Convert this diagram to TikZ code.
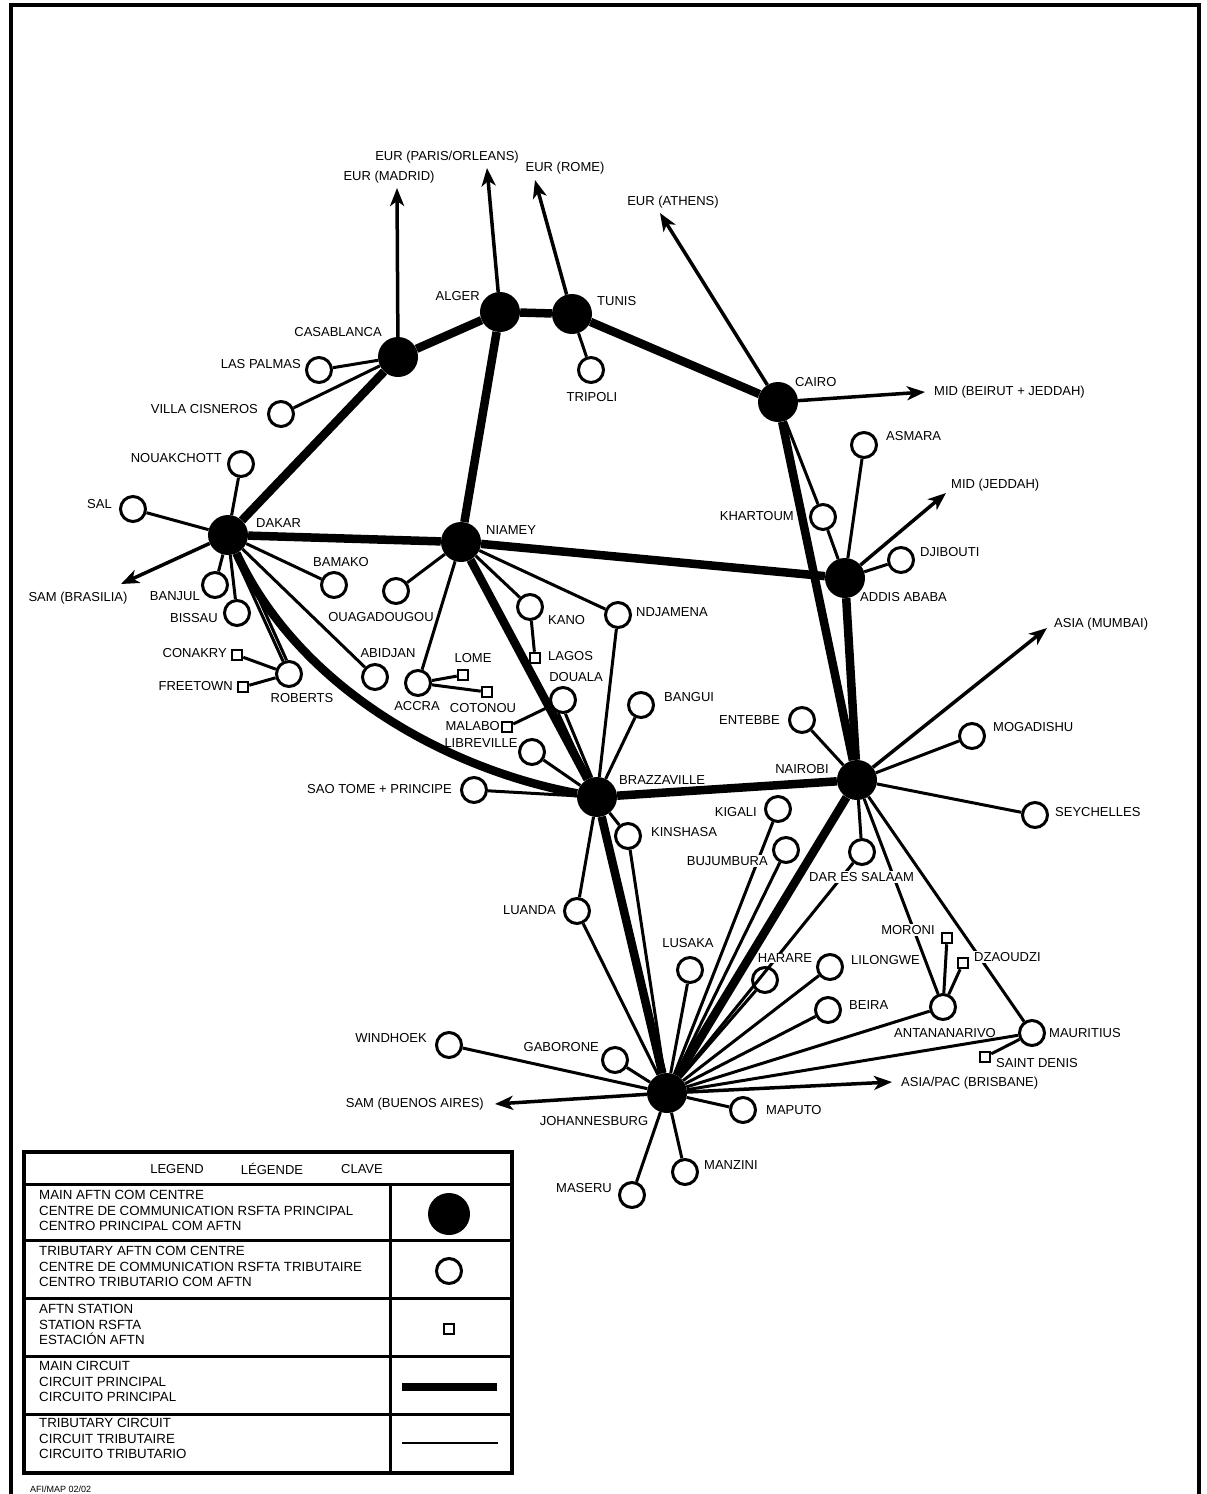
\documentclass[tikz,border=0pt]{standalone}
\usepackage{fontspec}
\setmainfont{Liberation Sans}
\usetikzlibrary{arrows.meta}
\tikzset{
  hub/.style={circle, fill=black, minimum size=40pt, inner sep=0pt},
  trib/.style={circle, draw, line width=3pt, fill=white, minimum size=25pt, inner sep=0pt},
  stn/.style={rectangle, draw, line width=2.5pt, fill=white, minimum size=10pt, inner sep=0pt},
  lbl/.style={font=\fontsize{13}{15.5}\selectfont, inner sep=1pt},
  cut/.style={lbl, fill=white},
  legtext/.style={font=\fontsize{13.3}{15.6}\selectfont, align=left, anchor=north west, inner sep=0pt},
  maincirc/.style={line width=8.5pt},
  tribcirc/.style={line width=3pt},
  extcirc/.style={line width=3.5pt, -{Stealth[length=18pt,width=14pt,inset=5pt]}},
}
\begin{document}
\begin{tikzpicture}[x=1pt,y=-1pt]
  \useasboundingbox (0,0) rectangle (1207,1494);
  \draw[line width=4pt] (11,1500) -- (11,5) -- (1199,5) -- (1199,1500);

  % main centres
  \node[hub] (casablanca) at (398,357) {};
  \node[hub] (alger) at (500,312) {};
  \node[hub] (tunis) at (572,314) {};
  \node[hub] (cairo) at (778,402) {};
  \node[hub] (dakar) at (228,535) {};
  \node[hub] (niamey) at (461,542) {};
  \node[hub] (addis) at (845,578) {};
  \node[hub] (brazzaville) at (597,797) {};
  \node[hub] (nairobi) at (857,780) {};
  \node[hub] (johannesburg) at (667,1093) {};

  % tributary centres
  \node[trib] (laspalmas) at (319,370) {};
  \node[trib] (villacisneros) at (281,414) {};
  \node[trib] (nouakchott) at (241,464) {};
  \node[trib] (sal) at (133,509) {};
  \node[trib] (banjul) at (215,585) {};
  \node[trib] (bissau) at (237,613) {};
  \node[trib] (roberts) at (289,674) {};
  \node[trib] (bamako) at (334,585) {};
  \node[trib] (ouagadougou) at (396,591) {};
  \node[trib] (abidjan) at (375,677) {};
  \node[trib] (accra) at (418,683) {};
  \node[trib] (kano) at (530,607) {};
  \node[trib] (ndjamena) at (618,615) {};
  \node[trib] (douala) at (563,700) {};
  \node[trib] (libreville) at (532,752) {};
  \node[trib] (saotome) at (474,790) {};
  \node[trib] (bangui) at (641,705) {};
  \node[trib] (tripoli) at (591,370) {};
  \node[trib] (khartoum) at (823,517) {};
  \node[trib] (asmara) at (864,445) {};
  \node[trib] (djibouti) at (901,560) {};
  \node[trib] (entebbe) at (802,720) {};
  \node[trib] (mogadishu) at (972,736) {};
  \node[trib] (seychelles) at (1035,815) {};
  \node[trib] (kigali) at (778,809) {};
  \node[trib] (bujumbura) at (786,850) {};
  \node[trib] (daressalaam) at (862,852) {};
  \node[trib] (kinshasa) at (628,836) {};
  \node[trib] (luanda) at (577,911) {};
  \node[trib] (lusaka) at (690,970) {};
  \node[trib] (harare) at (765,980) {};
  \node[trib] (lilongwe) at (830,967) {};
  \node[trib] (beira) at (828,1010) {};
  \node[trib] (antananarivo) at (943,1007) {};
  \node[trib] (mauritius) at (1032,1033) {};
  \node[trib] (windhoek) at (449,1045) {};
  \node[trib] (gaborone) at (615,1060) {};
  \node[trib] (maputo) at (743,1110) {};
  \node[trib] (manzini) at (685,1172) {};
  \node[trib] (maseru) at (632,1195) {};

  % stations
  \node[stn] (conakry) at (237,655) {};
  \node[stn] (freetown) at (243,687) {};
  \node[stn] (lome) at (463,675) {};
  \node[stn] (cotonou) at (487,692) {};
  \node[stn] (lagos) at (535,658) {};
  \node[stn] (malabo) at (507,727) {};
  \node[stn] (moroni) at (947,938) {};
  \node[stn] (dzaoudzi) at (963,963) {};
  \node[stn] (saintdenis) at (985,1057) {};

  % other regions
  \coordinate (madrid) at (397,188);
  \coordinate (paris) at (487,168);
  \coordinate (rome) at (535,180);
  \coordinate (athens) at (660,213);
  \coordinate (beirut) at (925,392);
  \coordinate (jeddah) at (946,493);
  \coordinate (mumbai) at (1047,628);
  \coordinate (brasilia) at (121,584);
  \coordinate (buenosaires) at (495,1104);
  \coordinate (brisbane) at (892,1082);

  \begin{scope}[maincirc]
    \draw (casablanca) to (alger);
    \draw (alger) to (tunis);
    \draw (tunis) to (cairo);
    \draw (casablanca) to (dakar);
    \draw (alger) to (niamey);
    \draw (dakar) to (niamey);
    \draw (niamey) to (addis);
    \draw (cairo) to (nairobi);
    \draw (addis) to (nairobi);
    \draw (niamey) to (brazzaville);
    \draw (dakar) .. controls (300,690) and (450,770) .. (brazzaville);
    \draw (brazzaville) to (nairobi);
    \draw (brazzaville) to (johannesburg);
    \draw (nairobi) to (johannesburg);
  \end{scope}

  \begin{scope}[extcirc]
    \draw (casablanca) to (madrid);
    \draw (alger) to (paris);
    \draw (tunis) to (rome);
    \draw (cairo) to (athens);
    \draw (cairo) to (beirut);
    \draw (addis) to (jeddah);
    \draw (nairobi) to (mumbai);
    \draw (dakar) to (brasilia);
    \draw (johannesburg) to (buenosaires);
    \draw (johannesburg) to (brisbane);
  \end{scope}

  \begin{scope}[tribcirc]
    \draw (casablanca) to (laspalmas);
    \draw (casablanca) to (villacisneros);
    \draw (tunis) to (tripoli);
    \draw (dakar) to (nouakchott);
    \draw (dakar) to (sal);
    \draw (dakar) to (banjul);
    \draw (dakar) to (bissau);
    \draw (dakar.-72) to (roberts.115);
    \draw (dakar.-60) to (roberts.100);
    \draw (dakar) to (bamako);
    \draw (dakar) to (abidjan);
    \draw (roberts) to (conakry);
    \draw (roberts) to (freetown);
    \draw (niamey) to (ouagadougou);
    \draw (niamey) to (accra);
    \draw (niamey) to (kano);
    \draw (niamey) to (ndjamena);
    \draw (accra) to (lome);
    \draw (accra) to (cotonou);
    \draw (kano) to (lagos);
    \draw (malabo) to (douala);
    \draw (ndjamena) to (brazzaville);
    \draw (douala.-110) to (brazzaville.115);
    \draw (douala.-80) to (brazzaville.105);
    \draw (libreville) to (brazzaville);
    \draw (saotome) to (brazzaville);
    \draw (bangui) to (brazzaville);
    \draw (kinshasa) to (brazzaville);
    \draw (luanda) to (brazzaville);
    \draw (cairo) to (khartoum);
    \draw (khartoum) to (addis);
    \draw (asmara) to (addis);
    \draw (djibouti) to (addis);
    \draw (entebbe) to (nairobi);
    \draw (mogadishu) to (nairobi);
    \draw (seychelles) to (nairobi);
    \draw (daressalaam) to (nairobi);
    \draw (antananarivo) to (nairobi);
    \draw (mauritius) to (nairobi);
    \draw (antananarivo) to (moroni);
    \draw (antananarivo) to (dzaoudzi);
    \draw (mauritius) to (saintdenis);
    \draw (johannesburg) to (luanda);
    \draw (johannesburg) to (kinshasa);
    \draw (johannesburg) to (windhoek);
    \draw (johannesburg) to (gaborone);
    \draw (johannesburg) to (lusaka);
    \draw (johannesburg) to (kigali);
    \draw (johannesburg) to (bujumbura);
    \draw (johannesburg) to (daressalaam);
    \draw (johannesburg) to (harare);
    \draw (johannesburg) to (lilongwe);
    \draw (johannesburg) to (beira);
    \draw (johannesburg) to (antananarivo);
    \draw (johannesburg) to (mauritius);
    \draw (johannesburg) to (maputo);
    \draw (johannesburg) to (manzini);
    \draw (johannesburg) to (maseru);
  \end{scope}

  % labels
  \node[lbl] (lmadrid) at (389,177) {EUR (MADRID)};
  \node[lbl] (lparis) at (447,157) {EUR (PARIS/ORLEANS)};
  \node[lbl] (lrome) at (565,168) {EUR (ROME)};
  \node[lbl] (lathens) at (673,202) {EUR (ATHENS)};
  \node[lbl, anchor=west] (lbeirut) at (933,392) {MID (BEIRUT + JEDDAH)};
  \node[lbl, anchor=west] (ljeddah) at (950,485) {MID (JEDDAH)};
  \node[lbl, anchor=west] (lmumbai) at (1053,624) {ASIA (MUMBAI)};
  \node[lbl] (lbrasilia) at (78,598) {SAM (BRASILIA)};
  \node[lbl, anchor=east] (lbuenosaires) at (485,1104) {SAM (BUENOS AIRES)};
  \node[lbl, anchor=west] (lbrisbane) at (900,1083) {ASIA/PAC (BRISBANE)};

  \node[lbl, anchor=east] (lcasablanca) at (383,332) {CASABLANCA};
  \node[lbl, anchor=east] (lalger) at (481,296) {ALGER};
  \node[lbl, anchor=west] (ltunis) at (596,301) {TUNIS};
  \node[lbl, anchor=west] (lcairo) at (794,382) {CAIRO};
  \node[lbl, anchor=west] (ldakar) at (255,523) {DAKAR};
  \node[lbl, anchor=west] (lniamey) at (485,530) {NIAMEY};
  \node[lbl, anchor=west] (laddis) at (859,597) {ADDIS ABABA};
  \node[lbl, anchor=west] (lbrazzaville) at (618,780) {BRAZZAVILLE};
  \node[lbl] (lnairobi) at (802,769) {NAIROBI};
  \node[lbl] (ljohannesburg) at (594,1121) {JOHANNESBURG};

  \node[lbl, anchor=east] (llaspalmas) at (302,364) {LAS PALMAS};
  \node[lbl, anchor=east] (lvillacisneros) at (259,409) {VILLA CISNEROS};
  \node[lbl, anchor=east] (lnouakchott) at (223,458) {NOUAKCHOTT};
  \node[lbl, anchor=east] (lsal) at (113,504) {SAL};
  \node[lbl, anchor=east] (lbanjul) at (201,596) {BANJUL};
  \node[lbl, anchor=east] (lbissau) at (219,618) {BISSAU};
  \node[lbl, anchor=east] (lconakry) at (228,653) {CONAKRY};
  \node[lbl, anchor=east] (lfreetown) at (234,686) {FREETOWN};
  \node[lbl] (lroberts) at (302,698) {ROBERTS};
  \node[lbl] (lbamako) at (341,562) {BAMAKO};
  \node[lbl] (louagadougou) at (381,617) {OUAGADOUGOU};
  \node[lbl] (labidjan) at (388,653) {ABIDJAN};
  \node[lbl] (laccra) at (417,706) {ACCRA};
  \node[lbl] (llome) at (473,658) {LOME};
  \node[lbl] (lcotonou) at (483,708) {COTONOU};
  \node[lbl, anchor=west] (lkano) at (547,620) {KANO};
  \node[lbl, anchor=west] (llagos) at (547,656) {LAGOS};
  \node[lbl, anchor=west] (lndjamena) at (635,612) {NDJAMENA};
  \node[lbl] (ldouala) at (576,677) {DOUALA};
  \node[lbl, anchor=east] (lmalabo) at (501,726) {MALABO};
  \node[lbl] (llibreville) at (481,743) {LIBREVILLE};
  \node[lbl, anchor=east] (lsaotome) at (453,789) {SAO TOME + PRINCIPE};
  \node[lbl, anchor=west] (lbangui) at (663,697) {BANGUI};
  \node[lbl] (ltripoli) at (592,397) {TRIPOLI};
  \node[lbl, anchor=east] (lkhartoum) at (795,516) {KHARTOUM};
  \node[lbl, anchor=west] (lasmara) at (885,436) {ASMARA};
  \node[lbl, anchor=west] (ldjibouti) at (919,552) {DJIBOUTI};
  \node[lbl, anchor=east] (lentebbe) at (781,720) {ENTEBBE};
  \node[lbl, anchor=west] (lmogadishu) at (992,727) {MOGADISHU};
  \node[lbl, anchor=west] (lseychelles) at (1054,812) {SEYCHELLES};
  \node[lbl, anchor=east] (lkigali) at (758,812) {KIGALI};
  \node[cut, anchor=east] (lbujumbura) at (769,861) {BUJUMBURA};
  \node[cut, anchor=west] (ldaressalaam) at (808,877) {DAR ES SALAAM};
  \node[lbl, anchor=west] (lkinshasa) at (650,832) {KINSHASA};
  \node[lbl, anchor=east] (lluanda) at (557,910) {LUANDA};
  \node[lbl] (llusaka) at (688,943) {LUSAKA};
  \node[cut] (lharare) at (785,958) {HARARE};
  \node[lbl, anchor=west] (llilongwe) at (850,960) {LILONGWE};
  \node[lbl, anchor=west] (lbeira) at (848,1005) {BEIRA};
  \node[lbl] (lantananarivo) at (945,1033) {ANTANANARIVO};
  \node[cut] (lmoroni) at (908,930) {MORONI};
  \node[cut, anchor=west] (ldzaoudzi) at (973,957) {DZAOUDZI};
  \node[lbl, anchor=west] (lmauritius) at (1048,1033) {MAURITIUS};
  \node[lbl, anchor=west] (lsaintdenis) at (995,1063) {SAINT DENIS};
  \node[lbl, anchor=east] (lwindhoek) at (428,1038) {WINDHOEK};
  \node[lbl, anchor=east] (lgaborone) at (600,1047) {GABORONE};
  \node[lbl, anchor=west] (lmaputo) at (765,1110) {MAPUTO};
  \node[lbl, anchor=west] (lmanzini) at (703,1165) {MANZINI};
  \node[lbl, anchor=east] (lmaseru) at (613,1188) {MASERU};

  % legend
  \draw[line width=3.5pt] (24,1152) rectangle (512,1473);
  \begin{scope}[line width=3pt]
    \draw (24,1184) -- (512,1184);
    \draw (24,1240) -- (512,1240);
    \draw (24,1298) -- (512,1298);
    \draw (24,1356) -- (512,1356);
    \draw (24,1414) -- (512,1414);
    \draw (390,1184) -- (390,1473);
  \end{scope}
  \node[lbl] (hlegend) at (177,1169) {LEGEND};
  \node[lbl] (hlegende) at (272,1169) {LÉGENDE};
  \node[lbl] (hclave) at (362,1169) {CLAVE};
  \node[legtext] (tmain) at (39,1190) {MAIN AFTN COM CENTRE\\CENTRE DE COMMUNICATION RSFTA PRINCIPAL\\CENTRO PRINCIPAL COM AFTN};
  \node[legtext] (ttrib) at (39,1246) {TRIBUTARY AFTN COM CENTRE\\CENTRE DE COMMUNICATION RSFTA TRIBUTAIRE\\CENTRO TRIBUTARIO COM AFTN};
  \node[legtext] (tstn) at (39,1304) {AFTN STATION\\STATION RSFTA\\ESTACIÓN AFTN};
  \node[legtext] (tmaincirc) at (39,1361) {MAIN CIRCUIT\\CIRCUIT PRINCIPAL\\CIRCUITO PRINCIPAL};
  \node[legtext] (ttribcirc) at (39,1418) {TRIBUTARY CIRCUIT\\CIRCUIT TRIBUTAIRE\\CIRCUITO TRIBUTARIO};
  \node[hub, minimum size=42pt] (leghub) at (449,1214) {};
  \node[trib] (legtrib) at (449,1271) {};
  \node[stn] (legstn) at (449,1329) {};
  \coordinate (lma) at (402,1387);
  \coordinate (lmb) at (497,1387);
  \coordinate (lta) at (402,1443);
  \coordinate (ltb) at (498,1443);
  \draw[maincirc] (lma) -- (lmb);
  \draw[line width=1.5pt] (lta) -- (ltb);
  \node[font=\fontsize{9}{10}\selectfont, anchor=west, inner sep=0pt] (mapref) at (30,1489) {AFI/MAP 02/02};
\end{tikzpicture}
\end{document}
